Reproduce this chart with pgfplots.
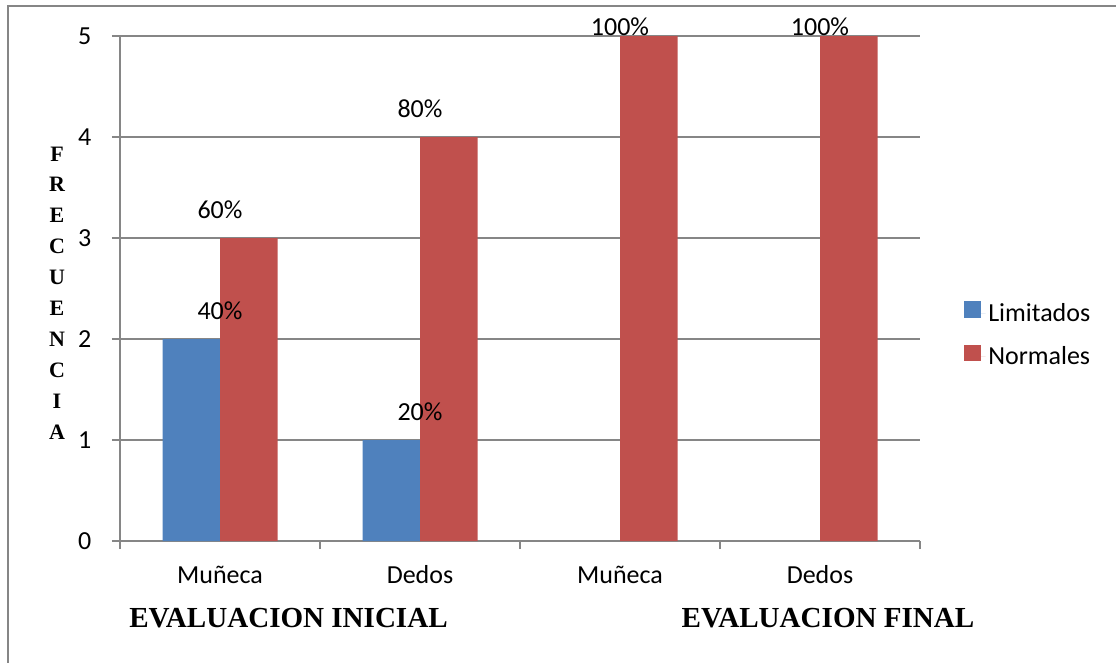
\documentclass[border=0pt]{standalone}
\usepackage{pgfplots}
\pgfplotsset{compat=1.18}
\usepackage{fontspec}
\setmainfont{Carlito}
\newfontfamily\tnr{Liberation Serif}
\definecolor{barblue}{HTML}{4F81BD}
\definecolor{barred}{HTML}{C0504D}
\definecolor{linegray}{HTML}{868686}
\newcommand{\lblfont}{\fontsize{19.5}{23}\selectfont}
\begin{document}
\begin{tikzpicture}[x=0.75pt,y=0.75pt]
\useasboundingbox (0,0) rectangle (1116,662);
% outer chart frame
\draw[linegray, line width=1.5pt] (8,-20) -- (8,656) -- (1140,656);
\begin{axis}[
  at={(90pt,90.75pt)}, anchor=south west,
  scale only axis, width=600pt, height=378.75pt,
  xmin=-0.5, xmax=3.5, ymin=0, ymax=5,
  clip=false,
  axis x line*=bottom, axis y line*=left,
  axis line style={-, draw=linegray, line width=1.1pt},
  ymajorgrids, grid style={draw=linegray, line width=1.1pt},
  ytick={0,1,2,3,4,5},
  xtick={0,1,2,3},
  xticklabels={Muñeca,Dedos,Muñeca,Dedos},
  minor xtick={-0.5,0.5,1.5,2.5,3.5},
  tick align=outside,
  major tick length=6pt, minor tick length=6pt,
  major x tick style={draw=none},
  tick style={draw=linegray, line width=1.1pt},
  /pgf/number format/assume math mode=true,
  tick label style={font=\lblfont},
  xticklabel style={anchor=base, yshift=-25.5pt},
  yticklabel style={anchor=east, xshift=-12pt},
  legend cell align=left,
  legend style={at={(1.055,0.408)}, anchor=west, draw=none, fill=none,
    inner sep=0pt, font=\lblfont, row sep=13.5pt},
  legend image code/.code={\fill[#1] (0pt,-3.5pt) rectangle (12.5pt,9pt);
    \path (12.5pt,0pt) -- (16pt,0pt);},
  % share of the 5 cases, shown above each bar
  pctlabel/.style={point meta={y*20},
    nodes near coords={\pgfmathprintnumber[fixed,precision=0]{\pgfplotspointmeta}\%},
    every node near coord/.append style={font=\lblfont, anchor=base, yshift=#1}},
]
% Limitados
\addplot[ybar, bar width=0.2875, bar shift=-0.14375, fill=barblue, draw=none,
  pctlabel=15pt]
  coordinates {(0,2) (1,1)};
\addlegendentry{Limitados}
% Normales
\addplot[ybar, bar width=0.2875, bar shift=0.14375, fill=barred, draw=none,
  pctlabel=15pt]
  coordinates {(0,3) (1,4)};
\addlegendentry{Normales}
\addplot[ybar, bar width=0.2875, bar shift=0.14375, fill=barred, draw=none,
  forget plot, pctlabel=0.75pt]
  coordinates {(2,5) (3,5)};
\end{axis}
% vertical axis title, one letter per line
\node[font=\tnr\bfseries\fontsize{16.5}{23.2}\selectfont, align=center] at (57,369)
  {F\\R\\E\\C\\U\\E\\N\\C\\I\\A};
% group titles
\node[font=\tnr\bfseries\fontsize{21.8}{24}\selectfont, anchor=base] at (288.5,35) {EVALUACION INICIAL};
\node[font=\tnr\bfseries\fontsize{21.8}{24}\selectfont, anchor=base] at (828,35) {EVALUACION FINAL};
\end{tikzpicture}
\end{document}
